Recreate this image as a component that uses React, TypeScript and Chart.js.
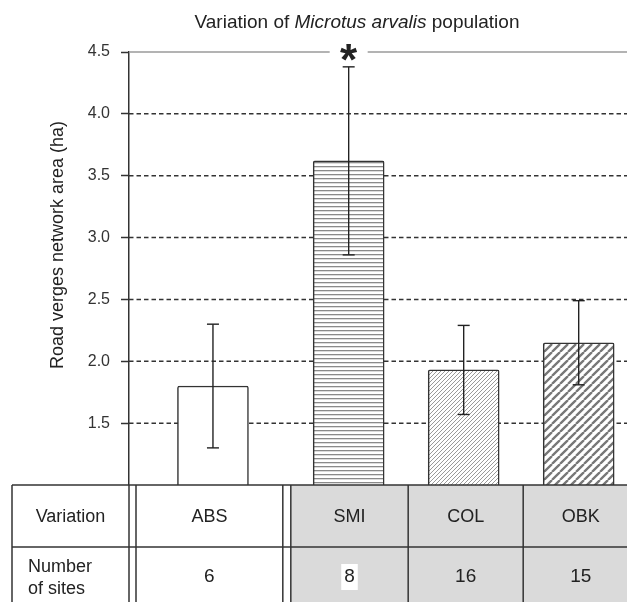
import React, { useEffect, useRef } from 'react';
import { Chart, registerables, CategoryScale } from 'chart.js';

// ---------- data ----------
const categories = ['ABS', 'SMI', 'COL', 'OBK'];
const means = [1.8, 3.62, 1.93, 2.15];
const errors = [0.5, 0.76, 0.36, 0.34];
const siteCounts = ['6', '8', '16', '15'];
const highlightedCount = 1;
const significantIndex = 1;
const significanceMark = '*';
const yTicks = [1.5, 2.0, 2.5, 3.0, 3.5, 4.0, 4.5];
const yMin = 1.0;
const yMax = 4.5;
const titleParts = [
  { text: 'Variation of ', italic: false },
  { text: 'Microtus arvalis', italic: true },
  { text: ' population', italic: false },
];
const yTitle = 'Road verges network area (ha)';
const rowLabel1 = 'Variation';
const rowLabel2 = ['Number', 'of sites'];
const patternKinds = ['none', 'horizontal', 'fineDiag', 'wideDiag'];

const FONT = '"Liberation Sans", Arial, Helvetica, sans-serif';

// ---------- custom category scale with a gap after a group ----------
class SplitCategoryScale extends CategoryScale {
  static id = 'splitCategory';
  static defaults = { ...(CategoryScale as any).defaults };
  getPixelForValue(value: any, index?: number): number {
    let v = value;
    if (typeof v !== 'number') v = (this as any).parse(v, index);
    if (v === null || v === undefined || isNaN(v)) return NaN;
    const o: any = this.options;
    const lead = o.leadUnits ?? 0;
    const split = o.splitUnits ?? 0;
    const splitAfter = o.splitAfter ?? 0;
    const total = o.totalUnits ?? 4;
    const pos = lead + 0.5 + v + (v > splitAfter ? split : 0);
    return this.getPixelForDecimal(pos / total);
  }
}

Chart.register(...registerables, SplitCategoryScale);

function makePattern(kind: string): CanvasPattern | string {
  if (kind === 'none') return '#ffffff';
  const c = document.createElement('canvas');
  if (kind === 'horizontal') {
    c.width = 8;
    c.height = 4;
    const g = c.getContext('2d')!;
    g.fillStyle = '#ffffff';
    g.fillRect(0, 0, 8, 4);
    g.fillStyle = '#8a8a8a';
    g.fillRect(0, 2, 8, 1.3);
    return g.createPattern(c, 'repeat')!;
  }
  const p = kind === 'fineDiag' ? 4 : 8;
  c.width = p;
  c.height = p;
  const g = c.getContext('2d')!;
  g.fillStyle = '#ffffff';
  g.fillRect(0, 0, p, p);
  g.strokeStyle = kind === 'fineDiag' ? '#9a9a9a' : '#777777';
  g.lineWidth = kind === 'fineDiag' ? 1 : 2.3;
  g.beginPath();
  for (let k = -1; k <= 1; k++) {
    g.moveTo(k * p, p);
    g.lineTo(k * p + p, 0);
  }
  g.stroke();
  return g.createPattern(c, 'repeat')!;
}

function line(ctx: CanvasRenderingContext2D, x1: number, y1: number, x2: number, y2: number) {
  ctx.beginPath();
  ctx.moveTo(x1, y1);
  ctx.lineTo(x2, y2);
  ctx.stroke();
}

const decorPlugin = {
  id: 'decor',
  beforeDatasetsDraw(chart: any) {
    const { ctx, chartArea: a, scales } = chart;
    const x = scales.x;
    const y = scales.y;
    ctx.save();
    y.ticks.forEach((t: any) => {
      const py = y.getPixelForValue(t.value);
      if (t.value === y.max) {
        const sx = x.getPixelForValue(significantIndex);
        ctx.strokeStyle = '#9a9a9a';
        ctx.lineWidth = 1.5;
        ctx.setLineDash([]);
        line(ctx, a.left, py, sx - 19, py);
        line(ctx, sx + 19, py, a.right, py);
        ctx.fillStyle = '#222';
        ctx.font = `bold 44px ${FONT}`;
        ctx.textAlign = 'center';
        ctx.textBaseline = 'alphabetic';
        ctx.fillText(significanceMark, sx, py + 23);
      } else {
        ctx.strokeStyle = '#333';
        ctx.lineWidth = 1.5;
        ctx.setLineDash([4.5, 3]);
        line(ctx, a.left, py, a.right, py);
      }
    });
    ctx.restore();
  },
  afterDatasetsDraw(chart: any) {
    const { ctx, scales } = chart;
    const y = scales.y;
    const meta = chart.getDatasetMeta(0);
    ctx.save();
    ctx.strokeStyle = '#222';
    ctx.lineWidth = 1.4;
    ctx.setLineDash([]);
    meta.data.forEach((bar: any, i: number) => {
      const cx = bar.x;
      const hi = y.getPixelForValue(means[i] + errors[i]);
      const lo = y.getPixelForValue(means[i] - errors[i]);
      line(ctx, cx, hi, cx, lo);
      line(ctx, cx - 6, hi, cx + 6, hi);
      line(ctx, cx - 6, lo, cx + 6, lo);
    });
    ctx.restore();
  },
  afterDraw(chart: any) {
    const { ctx, chartArea: a, scales } = chart;
    const x = scales.x;
    ctx.save();

    // ---- title ----
    ctx.fillStyle = '#222';
    ctx.textBaseline = 'middle';
    ctx.textAlign = 'left';
    const widths = titleParts.map((p) => {
      ctx.font = `${p.italic ? 'italic ' : ''}19px ${FONT}`;
      return ctx.measureText(p.text).width;
    });
    const totalW = widths.reduce((s, w) => s + w, 0);
    let tx = 357 - totalW / 2;
    titleParts.forEach((p, i) => {
      ctx.font = `${p.italic ? 'italic ' : ''}19px ${FONT}`;
      ctx.fillText(p.text, tx, 23);
      tx += widths[i];
    });

    // ---- y title ----
    ctx.save();
    ctx.translate(58, 245);
    ctx.rotate(-Math.PI / 2);
    ctx.font = `18px ${FONT}`;
    ctx.textAlign = 'center';
    ctx.textBaseline = 'middle';
    ctx.fillStyle = '#222';
    ctx.fillText(yTitle, 0, 0);
    ctx.restore();

    // ---- table ----
    const n = categories.length;
    const top = a.bottom;
    const rowH = 62;
    const mid = top + rowH;
    const bottom = top + rowH * 2;
    const left = 12;
    const axisX = a.left;
    const centers = categories.map((_, i) => x.getPixelForValue(i));
    const bounds: number[] = [];
    for (let i = 0; i < n - 1; i++) bounds.push((centers[i] + centers[i + 1]) / 2 + 2);
    const right = centers[n - 1] + (centers[n - 1] - centers[n - 2]) / 2 + 2;
    const colL = [axisX + 7, bounds[0] + 8, bounds[1], bounds[2]];
    const colR = [bounds[0], bounds[1], bounds[2], right];

    ctx.fillStyle = '#ffffff';
    ctx.fillRect(left, top, right - left, bottom - top);
    ctx.fillStyle = '#dadada';
    ctx.fillRect(bounds[0] + 8, top, right - bounds[0] - 8, bottom - top);

    // text
    ctx.fillStyle = '#222';
    ctx.textBaseline = 'middle';
    ctx.textAlign = 'center';
    ctx.font = `18px ${FONT}`;
    ctx.fillText(rowLabel1, (left + axisX) / 2, (top + mid) / 2 + 1);
    ctx.textAlign = 'left';
    ctx.fillText(rowLabel2[0], 28, mid + 20);
    ctx.fillText(rowLabel2[1], 28, mid + 42);
    categories.forEach((c, i) => {
      const cx = (colL[i] + colR[i]) / 2;
      ctx.textAlign = 'center';
      ctx.font = `18px ${FONT}`;
      ctx.fillStyle = '#222';
      ctx.fillText(c, cx, (top + mid) / 2 + 1);
      ctx.font = `19px ${FONT}`;
      const cy = (mid + bottom) / 2 - 1;
      if (i === highlightedCount) {
        const w = ctx.measureText(siteCounts[i]).width;
        ctx.fillStyle = '#ffffff';
        ctx.fillRect(cx - w / 2 - 3, cy - 13, w + 6, 26);
      }
      ctx.fillStyle = '#222';
      ctx.fillText(siteCounts[i], cx, cy);
    });

    // lines
    ctx.strokeStyle = '#333';
    ctx.lineWidth = 1.5;
    ctx.setLineDash([]);
    line(ctx, left, top, right, top);
    line(ctx, left, mid, right, mid);
    line(ctx, left, bottom, right, bottom);
    [left, axisX, axisX + 7, bounds[0], bounds[0] + 8, bounds[1], bounds[2], right].forEach((vx) =>
      line(ctx, vx, top, vx, bottom)
    );
    ctx.restore();
  },
};

export default function App() {
  const ref = useRef<HTMLCanvasElement | null>(null);
  useEffect(() => {
    const canvas = ref.current;
    if (!canvas) return;
    const patterns = patternKinds.map(makePattern);
    const chart = new Chart(canvas, {
      type: 'bar',
      data: {
        labels: categories,
        datasets: [
          {
            data: means,
            backgroundColor: patterns as any,
            borderColor: '#333',
            borderWidth: 1.5,
            borderSkipped: 'bottom',
            borderRadius: { topLeft: 2, topRight: 2, bottomLeft: 0, bottomRight: 0 },
            barThickness: 71,
          },
        ],
      },
      options: {
        animation: false,
        responsive: false,
        events: [],
        layout: { padding: { top: 52, bottom: 117, left: 0, right: 0 } },
        plugins: {
          legend: { display: false },
          tooltip: { enabled: false },
          title: { display: false },
        },
        scales: {
          x: {
            type: 'splitCategory' as any,
            display: false,
            offset: true,
            leadUnits: 0.23,
            splitUnits: 0.18,
            splitAfter: 0,
            totalUnits: 4.33,
          } as any,
          y: {
            min: yMin,
            max: yMax,
            afterFit: (s: any) => {
              s.width = 129;
            },
            afterBuildTicks: (s: any) => {
              s.ticks = yTicks.map((v) => ({ value: v }));
            },
            ticks: {
              callback: (v: any) => Number(v).toFixed(1),
              padding: 11,
              color: '#333',
              font: { family: FONT, size: 16 },
            },
            grid: {
              drawOnChartArea: false,
              drawTicks: true,
              tickLength: 8,
              tickColor: '#333',
              tickWidth: 1.5,
            },
            border: { display: true, color: '#333', width: 1.5 },
          } as any,
        },
      },
      plugins: [decorPlugin],
    });
    return () => chart.destroy();
  }, []);

  return (
    <div style={{ position: 'fixed', left: 0, top: 0, width: 627, height: 602, overflow: 'hidden', background: '#fff' }}>
      <canvas ref={ref} width={627} height={602} style={{ display: 'block', width: 627, height: 602 }} />
    </div>
  );
}
